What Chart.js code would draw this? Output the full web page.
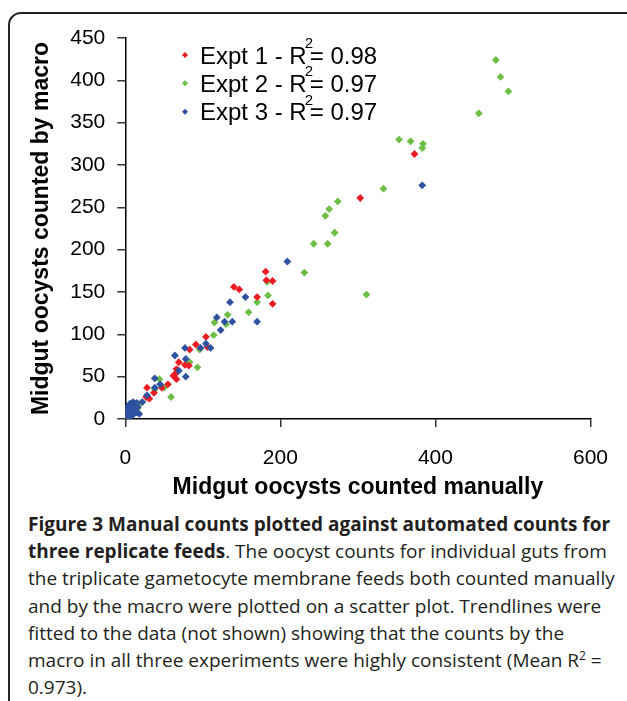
<!DOCTYPE html>
<html>
<head>
<meta charset="utf-8">
<title>Figure 3</title>
<script src="https://cdn.jsdelivr.net/npm/chart.js@4.4.1/dist/chart.umd.min.js"></script>
<style>
  html, body { margin: 0; padding: 0; background: #fff; }
  body { width: 627px; height: 701px; position: relative; overflow: hidden; }
  #frame {
    position: absolute; left: 8px; top: 12px; width: 800px; height: 900px;
    border: 2px solid #222; border-radius: 13px 0 0 0; box-sizing: border-box;
  }
  #plot { position: absolute; left: 0; top: 0; width: 627px; height: 510px; }
  #caption {
    position: absolute; left: 28px; top: 511px; width: 600px;
    font-family: 'Open Sans', sans-serif; font-size: 19px; line-height: 27.2px;
    color: #231f20; white-space: nowrap;
  }
  #caption b { font-weight: 700; }
</style>
</head>
<body>
<div id="frame"></div>
<div id="plot"><canvas id="chart-oocysts"></canvas></div>
<div id="caption">
  <b>Figure 3 Manual counts plotted against automated counts for<br>three replicate feeds</b>. The oocyst counts for individual guts from<br>the triplicate gametocyte membrane feeds both counted manually<br>and by the macro were plotted on a scatter plot. Trendlines were<br>fitted to the data (not shown) showing that the counts by the<br>macro in all three experiments were highly consistent (Mean R<sup style="font-size:12px;line-height:0">2</sup> =<br>0.973).
</div>
<script>
'use strict';

/* ---- data (manual count, macro count) ---- */
const expt1Manual = [373, 303, 181, 182, 190, 140, 147, 170, 190, 104, 91, 106, 83, 69, 77, 82, 66, 64, 66, 62, 28, 37, 47, 55, 27, 31, 2, 5, 0];
const expt1Macro  = [313, 261, 174, 164, 163, 156, 153, 144, 136, 97, 88, 85, 82, 67, 64, 63, 59, 53, 47, 51, 37, 31, 37, 41, 26, 24, 3, 6, 1];

const expt2Manual = [478, 484, 494, 456, 353, 368, 384, 383, 333, 274, 263, 258, 270, 243, 261, 231, 311, 183, 184, 170, 159, 132, 115, 130, 114, 96, 83, 93, 44, 38, 50, 59, 16, 20, 5, 8];
const expt2Macro  = [424, 404, 387, 361, 330, 328, 325, 320, 272, 257, 248, 240, 220, 207, 207, 173, 147, 162, 146, 138, 126, 123, 114, 112, 99, 82, 67, 61, 47, 35, 37, 26, 13, 19, 4, 8];

const expt3Manual = [383, 209, 155, 135, 170, 118, 128, 138, 123, 104, 97, 110, 77, 64, 78, 69, 78, 38, 38, 45, 28, 22, 15, 10, 18,
                     0, 1, 2, 3, 4, 5, 6, 7, 8, 9, 10, 11, 12, 2, 0, 4, 13, 14, 16, 6];
const expt3Macro  = [276, 186, 144, 138, 115, 120, 115, 115, 105, 89, 84, 84, 84, 75, 71, 57, 50, 48, 37, 41, 28, 20, 19, 20, 6,
                     0, 2, 5, 9, 12, 15, 3, 8, 12, 16, 5, 10, 14, 14, 7, 2, 18, 8, 14, 18];

const xTicks = [0, 200, 400, 600];
const yTicks = [0, 50, 100, 150, 200, 250, 300, 350, 400, 450];

const seriesNames = ['Expt 1 - R', 'Expt 2 - R', 'Expt 3 - R'];
const seriesR2    = ['0.98', '0.97', '0.97'];

const RED = '#ED1C24';
const GREEN = '#6CBE45';
const BLUE = '#2F52A0';
const FONT = "'Liberation Sans', Arial, Helvetica, sans-serif";

function toPoints(xs, ys) {
  return xs.map((x, i) => ({ x: x, y: ys[i] }));
}

/* Legend with a raised "2" after R, drawn on the canvas */
const r2Legend = {
  id: 'r2Legend',
  afterDatasetsDraw(chart) {
    const ctx = chart.ctx;
    const colors = [RED, GREEN, BLUE];
    const x0 = 185, textX = 200, rowY = [55, 83.3, 111.7];
    ctx.save();
    seriesNames.forEach((name, i) => {
      const y = rowY[i];
      ctx.fillStyle = colors[i];
      ctx.beginPath();
      ctx.moveTo(x0, y - 3); ctx.lineTo(x0 + 3, y); ctx.lineTo(x0, y + 3); ctx.lineTo(x0 - 3, y);
      ctx.closePath();
      ctx.fill();

      ctx.fillStyle = '#000';
      ctx.textBaseline = 'alphabetic';
      ctx.textAlign = 'left';
      ctx.font = '24px ' + FONT;
      ctx.fillText(name, textX, y + 8.5);
      const w = ctx.measureText(name).width;
      ctx.font = '15px ' + FONT;
      ctx.fillText('2', textX + w - 2, y - 7);
      ctx.font = '24px ' + FONT;
      ctx.fillText('= ' + seriesR2[i], textX + w + 3, y + 8.5);
    });
    ctx.restore();
  }
};

function initOocystChart() {
  const canvas = document.getElementById('chart-oocysts');
  if (!canvas) return;
  const ctx = canvas.getContext('2d');

  const pointStyle = {
    pointStyle: 'rectRot',
    pointRadius: 3.9,
    pointBorderWidth: 0,
    pointHoverRadius: 3.9,
    showLine: false,
  };

  return new Chart(ctx, {
    type: 'scatter',
    data: {
      datasets: [
        { label: 'Expt 1', data: toPoints(expt1Manual, expt1Macro), backgroundColor: RED, borderColor: RED, order: 1, ...pointStyle },
        { label: 'Expt 2', data: toPoints(expt2Manual, expt2Macro), backgroundColor: GREEN, borderColor: GREEN, order: 2, ...pointStyle },
        { label: 'Expt 3', data: toPoints(expt3Manual, expt3Macro), backgroundColor: BLUE, borderColor: BLUE, order: 0, ...pointStyle },
      ]
    },
    options: {
      responsive: true,
      maintainAspectRatio: false,
      animation: false,
      layout: { padding: { left: 0, top: 38, right: 34.7, bottom: 0 } },
      plugins: {
        legend: { display: false },
        tooltip: { enabled: false }
      },
      scales: {
        x: {
          type: 'linear',
          min: 0, max: 600,
          afterBuildTicks: s => { s.ticks = xTicks.map(v => ({ value: v })); },
          afterFit: s => { s.height = 91; },
          grid: { drawOnChartArea: false, drawTicks: true, tickLength: 8, color: '#333', lineWidth: 1.5 },
          border: { display: true, color: '#000', width: 1.5 },
          ticks: { color: '#000', padding: 19, font: { family: FONT, size: 21 } },
          title: {
            display: true,
            text: 'Midgut oocysts counted manually',
            color: '#000',
            font: { family: FONT, size: 23, weight: 'bold' },
            padding: { top: 0, bottom: 9 }
          }
        },
        y: {
          type: 'linear',
          min: 0, max: 450,
          afterBuildTicks: s => { s.ticks = yTicks.map(v => ({ value: v })); },
          afterFit: s => { s.width = 125.3; },
          grid: { drawOnChartArea: false, drawTicks: true, tickLength: 8, color: '#333', lineWidth: 1.5 },
          border: { display: true, color: '#000', width: 1.5 },
          ticks: { color: '#000', padding: 12, font: { family: FONT, size: 21 } },
          title: {
            display: true,
            text: 'Midgut oocysts counted by macro',
            color: '#000',
            font: { family: FONT, size: 23, weight: 'bold' },
            padding: { top: 28, bottom: 0 }
          }
        }
      }
    },
    plugins: [r2Legend]
  });
}

document.addEventListener('DOMContentLoaded', () => {
  initOocystChart();
});
</script>
</body>
</html>
